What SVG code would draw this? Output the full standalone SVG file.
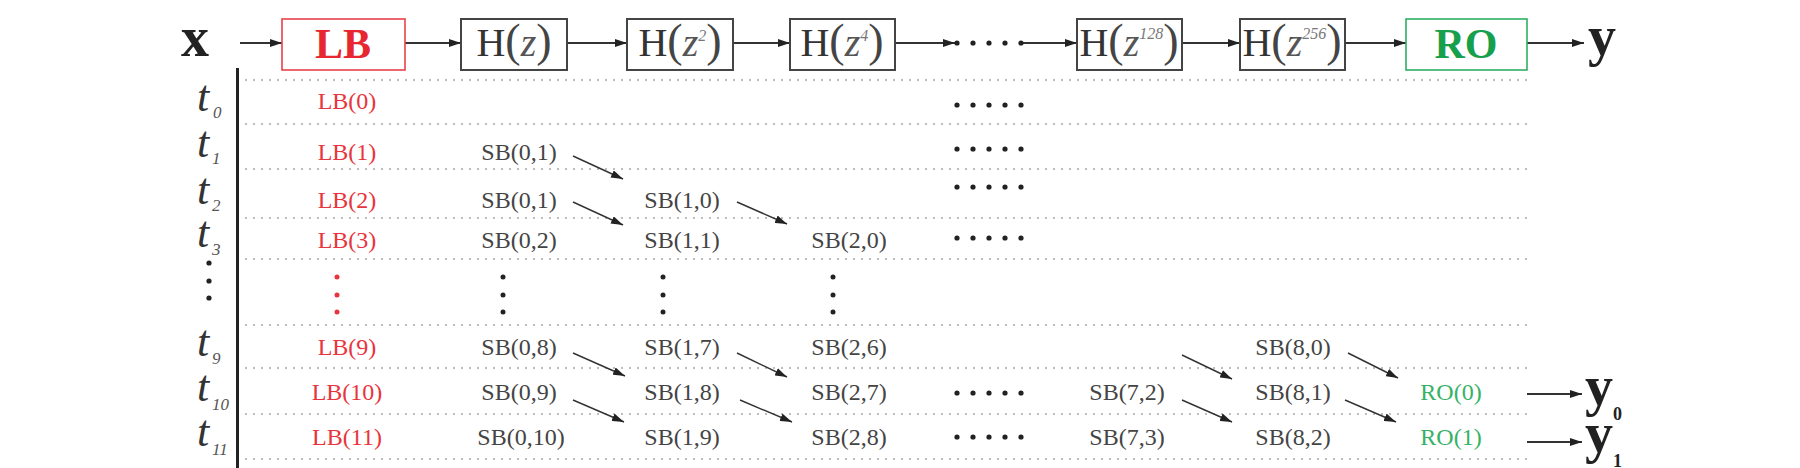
<svg xmlns="http://www.w3.org/2000/svg" width="1800" height="468" viewBox="0 0 1800 468">
<defs>
<marker id="ah" viewBox="0 0 12 8" refX="12" refY="4" markerWidth="12" markerHeight="8" markerUnits="userSpaceOnUse" orient="auto"><path d="M0,0 L12,4 L0,8 z" fill="#222"/></marker>
<marker id="ahs" viewBox="0 0 12 8" refX="12" refY="4" markerWidth="12" markerHeight="8" markerUnits="userSpaceOnUse" orient="auto"><path d="M0,0 L12,4 L0,8 z" fill="#222"/></marker>
</defs>
<style>
text{font-family:"Liberation Serif","Times New Roman",serif;}
.box{fill:#fff;stroke:#444;stroke-width:2;}
.lbbox{fill:#fff;stroke:#e8414a;stroke-width:1.6;}
.robox{fill:#fff;stroke:#2fae63;stroke-width:1.6;}
.hl{font-size:40px;fill:#333;text-anchor:middle;}
.par{font-size:46px;fill:#444;}
.z{font-style:italic;fill:#555;}
.sup{font-style:italic;font-size:16px;fill:#777;}
.big{font-size:56px;font-weight:bold;fill:#222;text-anchor:middle;}
.lbt{font-size:42px;font-weight:bold;fill:#e8262f;text-anchor:middle;}
.rot{font-size:42px;font-weight:bold;fill:#17a04c;text-anchor:middle;}
.lb{font-size:24px;fill:#e8343c;text-anchor:middle;}
.sb{font-size:24px;fill:#444;text-anchor:middle;}
.ro{font-size:24px;fill:#35b266;text-anchor:middle;}
.t{font-size:44px;font-style:italic;fill:#333;}
.ts{font-size:17px;font-style:italic;fill:#555;}
.sub{font-size:18px;font-weight:bold;fill:#222;}
.grid{stroke:#a8a8a8;stroke-width:1.3;stroke-dasharray:2 6;fill:none;}
.main{stroke:#333;stroke-width:2;fill:none;}
.diag{stroke:#333;stroke-width:1.4;fill:none;}
.dot{fill:#222;}
.rdot{fill:#e8343c;}
</style>

<!-- grid lines -->
<g id="grid">
<line class="grid" x1="245" y1="80" x2="1527" y2="80"/>
<line class="grid" x1="245" y1="124" x2="1527" y2="124"/>
<line class="grid" x1="245" y1="169" x2="1527" y2="169"/>
<line class="grid" x1="245" y1="218" x2="1527" y2="218"/>
<line class="grid" x1="245" y1="259" x2="1527" y2="259"/>
<line class="grid" x1="245" y1="325" x2="1527" y2="325"/>
<line class="grid" x1="245" y1="368" x2="1527" y2="368"/>
<line class="grid" x1="245" y1="414" x2="1527" y2="414"/>
<line class="grid" x1="245" y1="459" x2="1527" y2="459"/>
<line x1="237.5" y1="68" x2="237.5" y2="468" stroke="#222" stroke-width="3"/>
</g>

<!-- connectors -->
<g id="connectors">
<line class="main" x1="240" y1="43" x2="282" y2="43" marker-end="url(#ah)"/>
<line class="main" x1="405" y1="43" x2="461" y2="43" marker-end="url(#ah)"/>
<line class="main" x1="567" y1="43" x2="627" y2="43" marker-end="url(#ah)"/>
<line class="main" x1="733" y1="43" x2="790" y2="43" marker-end="url(#ah)"/>
<line class="main" x1="895" y1="43" x2="955" y2="43" marker-end="url(#ah)"/>
<line class="main" x1="1021" y1="43" x2="1077" y2="43" marker-end="url(#ah)"/>
<line class="main" x1="1182" y1="43" x2="1240" y2="43" marker-end="url(#ah)"/>
<line class="main" x1="1345" y1="43" x2="1406" y2="43" marker-end="url(#ah)"/>
<line class="main" x1="1527" y1="43" x2="1584" y2="43" marker-end="url(#ah)"/>
<line class="main" x1="1527" y1="394" x2="1582" y2="394" marker-end="url(#ah)"/>
<line class="main" x1="1527" y1="442" x2="1582" y2="442" marker-end="url(#ah)"/>
<line class="diag" x1="573" y1="156" x2="623" y2="179" marker-end="url(#ahs)"/>
<line class="diag" x1="573" y1="202" x2="623" y2="225" marker-end="url(#ahs)"/>
<line class="diag" x1="737" y1="202" x2="787" y2="224" marker-end="url(#ahs)"/>
<line class="diag" x1="573" y1="353" x2="625" y2="376" marker-end="url(#ahs)"/>
<line class="diag" x1="737" y1="353" x2="787" y2="377" marker-end="url(#ahs)"/>
<line class="diag" x1="1182" y1="355" x2="1232" y2="379" marker-end="url(#ahs)"/>
<line class="diag" x1="1348" y1="353" x2="1398" y2="378" marker-end="url(#ahs)"/>
<line class="diag" x1="573" y1="400" x2="624" y2="422" marker-end="url(#ahs)"/>
<line class="diag" x1="740" y1="400" x2="792" y2="422" marker-end="url(#ahs)"/>
<line class="diag" x1="1182" y1="400" x2="1232" y2="422" marker-end="url(#ahs)"/>
<line class="diag" x1="1345" y1="400" x2="1396" y2="422" marker-end="url(#ahs)"/>
</g>

<!-- top row nodes -->
<g id="in-x"><text class="big" x="195" y="56">x</text></g>
<g id="node-LB"><rect class="lbbox" x="282" y="19" width="123" height="51"/><text class="lbt" x="343" y="58">LB</text></g>
<g id="node-H1"><rect class="box" x="461" y="19" width="106" height="51"/><text class="hl" x="514" y="56">H<tspan class="par">(</tspan><tspan class="z">z</tspan><tspan class="par">)</tspan></text></g>
<g id="node-H2"><rect class="box" x="627" y="19" width="106" height="51"/><text class="hl" x="680" y="56">H<tspan class="par">(</tspan><tspan class="z">z</tspan><tspan class="sup" dy="-15">2</tspan><tspan class="par" dy="15">)</tspan></text></g>
<g id="node-H4"><rect class="box" x="790" y="19" width="105" height="51"/><text class="hl" x="842" y="56">H<tspan class="par">(</tspan><tspan class="z">z</tspan><tspan class="sup" dy="-15">4</tspan><tspan class="par" dy="15">)</tspan></text></g>
<g id="top-dots"><circle class="dot" cx="957" cy="43" r="2.6"/><circle class="dot" cx="973" cy="43" r="2.6"/><circle class="dot" cx="989" cy="43" r="2.6"/><circle class="dot" cx="1005" cy="43" r="2.6"/><circle class="dot" cx="1021" cy="43" r="2.6"/></g>
<g id="node-H128"><rect class="box" x="1077" y="19" width="105" height="51"/><text class="hl" x="1129" y="56">H<tspan class="par">(</tspan><tspan class="z">z</tspan><tspan class="sup" dy="-17">128</tspan><tspan class="par" dy="17">)</tspan></text></g>
<g id="node-H256"><rect class="box" x="1240" y="19" width="105" height="51"/><text class="hl" x="1292" y="56">H<tspan class="par">(</tspan><tspan class="z">z</tspan><tspan class="sup" dy="-17">256</tspan><tspan class="par" dy="17">)</tspan></text></g>
<g id="node-RO"><rect class="robox" x="1406" y="19" width="121" height="51"/><text class="rot" x="1466" y="58">RO</text></g>
<g id="out-y"><text class="big" x="1602" y="55">y</text></g>

<!-- time labels -->
<g id="time-labels">
<text class="t" x="197" y="111">t</text><text class="ts" x="213" y="118">0</text>
<text class="t" x="197" y="157">t</text><text class="ts" x="212" y="164">1</text>
<text class="t" x="197" y="204">t</text><text class="ts" x="212" y="211">2</text>
<text class="t" x="197" y="247">t</text><text class="ts" x="212" y="255">3</text>
<circle class="dot" cx="209" cy="263" r="2.6"/><circle class="dot" cx="209" cy="281" r="2.6"/><circle class="dot" cx="209" cy="298" r="2.6"/>
<text class="t" x="197" y="356">t</text><text class="ts" x="212" y="364">9</text>
<text class="t" x="197" y="401">t</text><text class="ts" x="212" y="410">10</text>
<text class="t" x="197" y="446">t</text><text class="ts" x="212" y="455">11</text>
</g>

<!-- LB column -->
<g id="col-LB">
<text class="lb" x="347" y="109">LB(0)</text>
<text class="lb" x="347" y="160">LB(1)</text>
<text class="lb" x="347" y="208">LB(2)</text>
<text class="lb" x="347" y="248">LB(3)</text>
<circle class="rdot" cx="337" cy="277" r="2.5"/><circle class="rdot" cx="337" cy="295" r="2.5"/><circle class="rdot" cx="337" cy="312" r="2.5"/>
<text class="lb" x="347" y="355">LB(9)</text>
<text class="lb" x="347" y="400">LB(10)</text>
<text class="lb" x="347" y="445">LB(11)</text>
</g>

<g id="col-SB0">
<text class="sb" x="519" y="160">SB(0,1)</text>
<text class="sb" x="519" y="208">SB(0,1)</text>
<text class="sb" x="519" y="248">SB(0,2)</text>
<circle class="dot" cx="503" cy="277" r="2.5"/><circle class="dot" cx="503" cy="295" r="2.5"/><circle class="dot" cx="503" cy="312" r="2.5"/>
<text class="sb" x="519" y="355">SB(0,8)</text>
<text class="sb" x="519" y="400">SB(0,9)</text>
<text class="sb" x="521" y="445">SB(0,10)</text>
</g>

<g id="col-SB1">
<text class="sb" x="682" y="208">SB(1,0)</text>
<text class="sb" x="682" y="248">SB(1,1)</text>
<circle class="dot" cx="663" cy="277" r="2.5"/><circle class="dot" cx="663" cy="295" r="2.5"/><circle class="dot" cx="663" cy="312" r="2.5"/>
<text class="sb" x="682" y="355">SB(1,7)</text>
<text class="sb" x="682" y="400">SB(1,8)</text>
<text class="sb" x="682" y="445">SB(1,9)</text>
</g>

<g id="col-SB2">
<text class="sb" x="849" y="248">SB(2,0)</text>
<circle class="dot" cx="833" cy="277" r="2.5"/><circle class="dot" cx="833" cy="295" r="2.5"/><circle class="dot" cx="833" cy="312" r="2.5"/>
<text class="sb" x="849" y="355">SB(2,6)</text>
<text class="sb" x="849" y="400">SB(2,7)</text>
<text class="sb" x="849" y="445">SB(2,8)</text>
</g>

<g id="col-dots">
<g transform="translate(0,105)"><circle class="dot" cx="957" cy="0" r="2.6"/><circle class="dot" cx="973" cy="0" r="2.6"/><circle class="dot" cx="989" cy="0" r="2.6"/><circle class="dot" cx="1005" cy="0" r="2.6"/><circle class="dot" cx="1021" cy="0" r="2.6"/></g>
<g transform="translate(0,149)"><circle class="dot" cx="957" cy="0" r="2.6"/><circle class="dot" cx="973" cy="0" r="2.6"/><circle class="dot" cx="989" cy="0" r="2.6"/><circle class="dot" cx="1005" cy="0" r="2.6"/><circle class="dot" cx="1021" cy="0" r="2.6"/></g>
<g transform="translate(0,187)"><circle class="dot" cx="957" cy="0" r="2.6"/><circle class="dot" cx="973" cy="0" r="2.6"/><circle class="dot" cx="989" cy="0" r="2.6"/><circle class="dot" cx="1005" cy="0" r="2.6"/><circle class="dot" cx="1021" cy="0" r="2.6"/></g>
<g transform="translate(0,238)"><circle class="dot" cx="957" cy="0" r="2.6"/><circle class="dot" cx="973" cy="0" r="2.6"/><circle class="dot" cx="989" cy="0" r="2.6"/><circle class="dot" cx="1005" cy="0" r="2.6"/><circle class="dot" cx="1021" cy="0" r="2.6"/></g>
<g transform="translate(0,393)"><circle class="dot" cx="957" cy="0" r="2.6"/><circle class="dot" cx="973" cy="0" r="2.6"/><circle class="dot" cx="989" cy="0" r="2.6"/><circle class="dot" cx="1005" cy="0" r="2.6"/><circle class="dot" cx="1021" cy="0" r="2.6"/></g>
<g transform="translate(0,437)"><circle class="dot" cx="957" cy="0" r="2.6"/><circle class="dot" cx="973" cy="0" r="2.6"/><circle class="dot" cx="989" cy="0" r="2.6"/><circle class="dot" cx="1005" cy="0" r="2.6"/><circle class="dot" cx="1021" cy="0" r="2.6"/></g>
</g>

<g id="col-SB7">
<text class="sb" x="1127" y="400">SB(7,2)</text>
<text class="sb" x="1127" y="445">SB(7,3)</text>
</g>

<g id="col-SB8">
<text class="sb" x="1293" y="355">SB(8,0)</text>
<text class="sb" x="1293" y="400">SB(8,1)</text>
<text class="sb" x="1293" y="445">SB(8,2)</text>
</g>

<g id="col-RO">
<text class="ro" x="1451" y="400">RO(0)</text>
<text class="ro" x="1451" y="445">RO(1)</text>
</g>

<g id="out-y0"><text class="big" x="1599" y="405">y</text><text class="sub" x="1613" y="420">0</text></g>
<g id="out-y1"><text class="big" x="1599" y="452">y</text><text class="sub" x="1613" y="467">1</text></g>
</svg>
